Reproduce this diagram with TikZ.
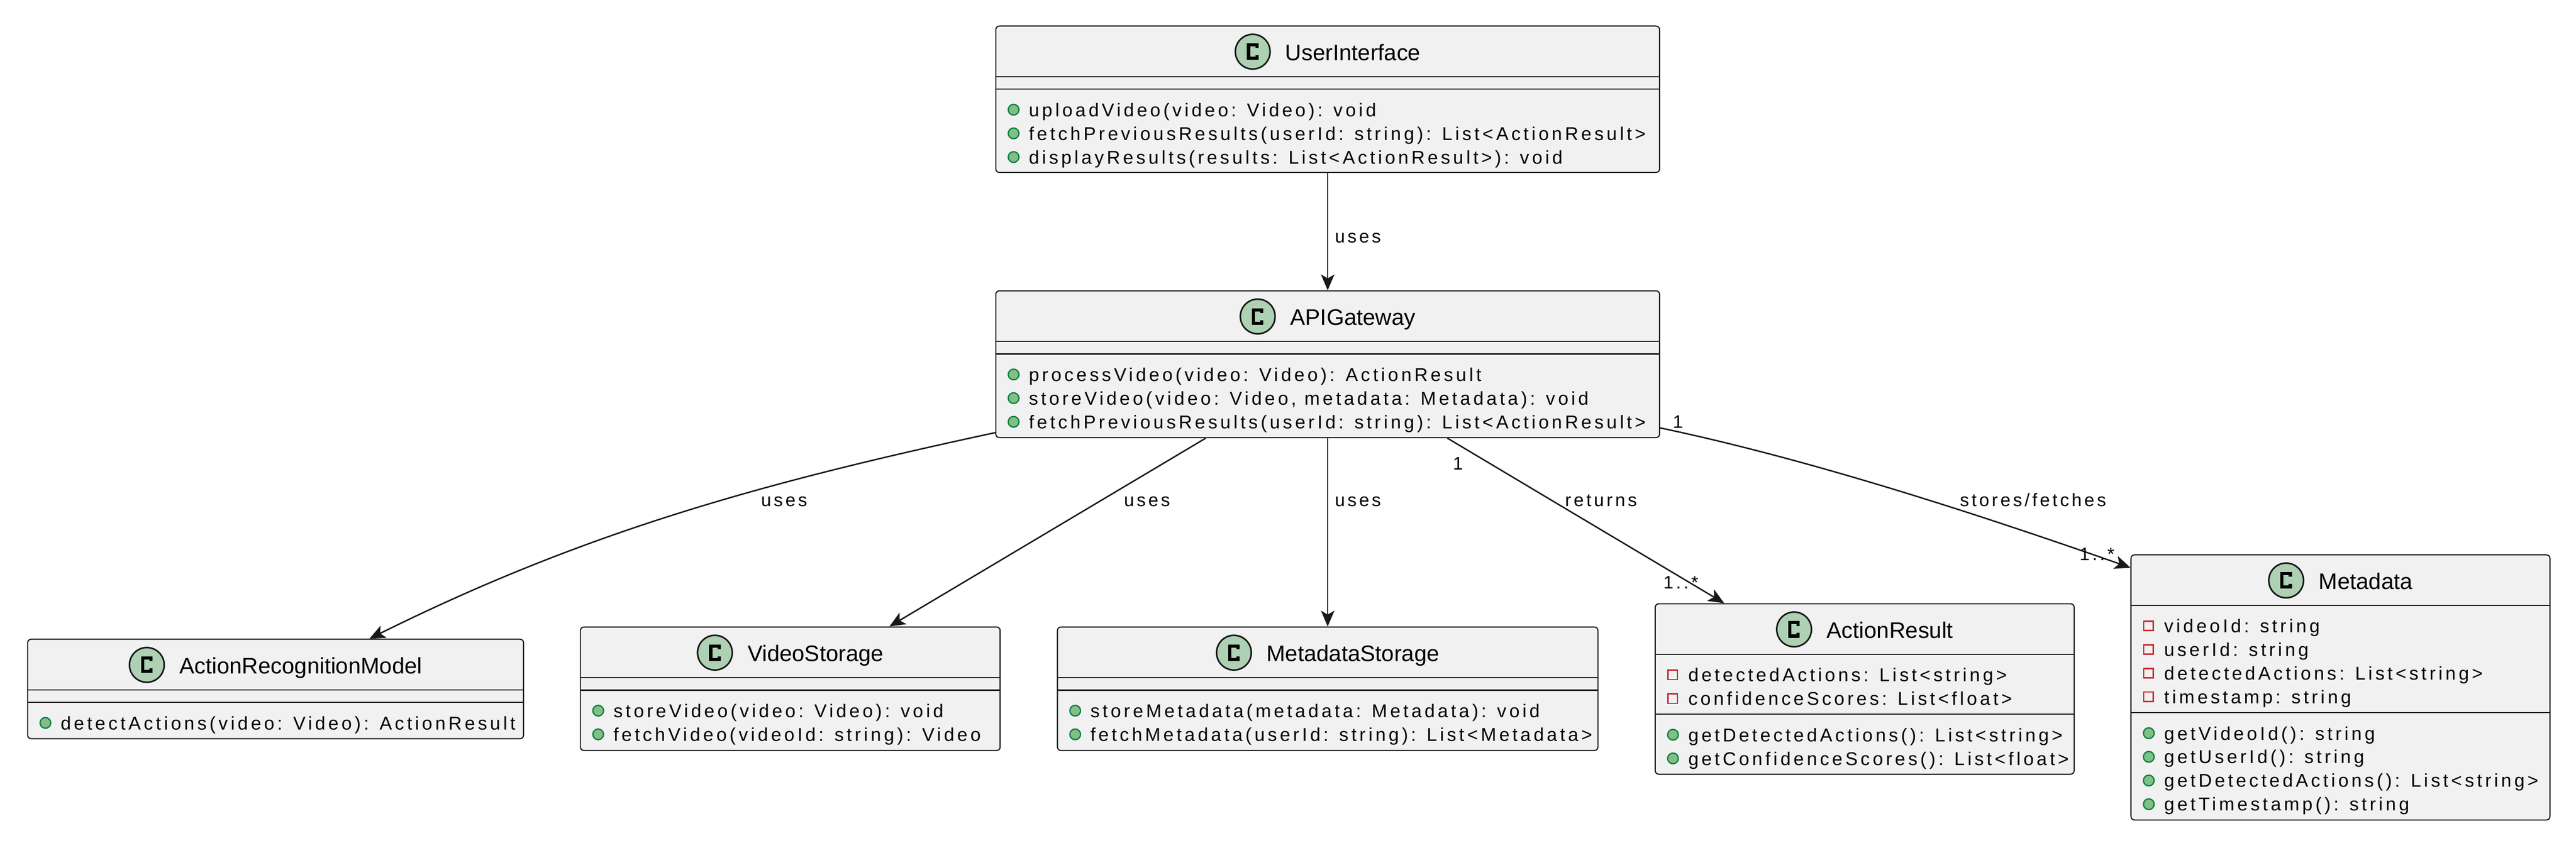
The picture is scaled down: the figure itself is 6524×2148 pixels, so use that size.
\documentclass[tikz,border=0pt]{standalone}
\usepackage{fontspec}
\setmainfont{Liberation Sans}
\newfontfamily\memberfont[LetterSpace=15.5]{Liberation Sans}
\newfontfamily\labelfont[LetterSpace=14]{Liberation Sans}
\newfontfamily\titlefont{Liberation Sans}
\usetikzlibrary{arrows.meta,calc,fit}
\definecolor{boxfill}{HTML}{F1F1F1}
\definecolor{boxline}{HTML}{181818}
\definecolor{circfill}{HTML}{ADD1B2}
\definecolor{pubfill}{HTML}{84BE84}
\definecolor{publine}{HTML}{038048}
\definecolor{privline}{HTML}{C82930}
\newcounter{memcnt}
\tikzset{
 classbox/.style={draw=boxline, fill=boxfill, line width=0.7pt, rounded corners=2.25pt, inner sep=0pt},
 sepline/.style={draw=boxline, line width=0.7pt},
 titletext/.style={inner sep=0pt, font=\titlefont\fontsize{14.25pt}{16pt}\selectfont},
 member/.style={inner sep=0pt, anchor=base west, font=\memberfont\fontsize{11.75pt}{13pt}\selectfont},
 edgelabel/.style={inner sep=0pt, anchor=base west, font=\labelfont\fontsize{11.5pt}{13pt}\selectfont},
 conn/.style={draw=boxline, line width=0.9pt, -{Stealth[length=10pt,width=8.5pt,inset=2.5pt]}},
 pubicon/.style={draw=publine, fill=pubfill, line width=0.8pt},
 privicon/.style={draw=privline, line width=0.8pt},
 classcircle/.style={draw=boxline, fill=circfill, line width=1pt},
 cglyph/.style={draw=black, line width=2pt},
}
\newcommand\classhead[4]{%
  \node[titletext, anchor=base] (#1title) at (#2+64,#3+87) {#4};
  \path (#1title.base west) ++(-82,-22) coordinate (#1c);
  \draw[classcircle] (#1c) circle[radius=11pt];
  \draw[cglyph] ($(#1c)+(10.5,-9)$) -- ++(0,-8) -- ++(-21,0) -- ++(0,34) -- ++(21,0) -- ++(0,-8);
}
\newcommand\sepl[3]{\draw[sepline] (#1,#3) -- (#2,#3);}
\newcommand\pubm[3]{%
  \stepcounter{memcnt}%
  \draw[pubicon] (#1+45,#2-17) circle[radius=3.4pt];
  \node[member] (mem\arabic{memcnt}) at (#1+83,#2) {#3};}
\newcommand\privm[3]{%
  \stepcounter{memcnt}%
  \draw[privicon] (#1+32.5,#2-29) rectangle (#1+56.5,#2-5);
  \node[member] (mem\arabic{memcnt}) at (#1+83,#2) {#3};}
\begin{document}
\begin{tikzpicture}[x=0.25pt,y=-0.25pt]
\useasboundingbox (0,0) rectangle (6524,2148);
\fill[white] (0,0) rectangle (6524,2148);

% UserInterface
\node[classbox, fit={(2522,66) (4203,437)}] (ui) {};
\classhead{ui}{3362.5}{66}{UserInterface}
\sepl{2522}{4203}{194}\sepl{2522}{4203}{226}
\pubm{2522}{295}{uploadVideo(video: Video): void}
\pubm{2522}{355}{fetchPreviousResults(userId: string): List<ActionResult>}
\pubm{2522}{415}{displayResults(results: List<ActionResult>): void}

% APIGateway
\node[classbox, fit={(2522,737) (4203,1109)}] (api) {};
\classhead{api}{3362.5}{737}{APIGateway}
\sepl{2522}{4203}{865}\sepl{2522}{4203}{897}
\pubm{2522}{966}{processVideo(video: Video): ActionResult}
\pubm{2522}{1026}{storeVideo(video: Video, metadata: Metadata): void}
\pubm{2522}{1086}{fetchPreviousResults(userId: string): List<ActionResult>}

% ActionRecognitionModel
\node[classbox, fit={(70,1620) (1326,1872)}] (arm) {};
\classhead{arm}{698}{1620}{ActionRecognitionModel}
\sepl{70}{1326}{1748}\sepl{70}{1326}{1780}
\pubm{70}{1849}{detectActions(video: Video): ActionResult}

% VideoStorage
\node[classbox, fit={(1470,1589) (2533,1902)}] (vs) {};
\classhead{vs}{2001.5}{1589}{VideoStorage}
\sepl{1470}{2533}{1717}\sepl{1470}{2533}{1749}
\pubm{1470}{1818}{storeVideo(video: Video): void}
\pubm{1470}{1878}{fetchVideo(videoId: string): Video}

% MetadataStorage
\node[classbox, fit={(2678,1589) (4047,1902)}] (ms) {};
\classhead{ms}{3362.5}{1589}{MetadataStorage}
\sepl{2678}{4047}{1717}\sepl{2678}{4047}{1749}
\pubm{2678}{1818}{storeMetadata(metadata: Metadata): void}
\pubm{2678}{1878}{fetchMetadata(userId: string): List<Metadata>}

% ActionResult
\node[classbox, fit={(4192,1530) (5253,1962)}] (ar) {};
\classhead{ar}{4722.5}{1530}{ActionResult}
\sepl{4192}{5253}{1658}\sepl{4192}{5253}{1810}
\privm{4192}{1727}{detectedActions: List<string>}
\privm{4192}{1787}{confidenceScores: List<float>}
\pubm{4192}{1879}{getDetectedActions(): List<string>}
\pubm{4192}{1939}{getConfidenceScores(): List<float>}

% Metadata
\node[classbox, fit={(5397,1406) (6458,2078)}] (md) {};
\classhead{md}{5927.5}{1406}{Metadata}
\sepl{5397}{6458}{1534}\sepl{5397}{6458}{1806}
\privm{5397}{1603}{videoId: string}
\privm{5397}{1663}{userId: string}
\privm{5397}{1723}{detectedActions: List<string>}
\privm{5397}{1783}{timestamp: string}
\pubm{5397}{1875}{getVideoId(): string}
\pubm{5397}{1935}{getUserId(): string}
\pubm{5397}{1995}{getDetectedActions(): List<string>}
\pubm{5397}{2055}{getTimestamp(): string}

% connectors
\draw[conn] (ui) -- (api);
\draw[conn] ($(api.south west)+(0,-14)$) .. controls (1922,1225) and (1477,1350) .. ($(arm.north west)+(867,0)$);
\draw[conn] ($(api.south west)+(533,0)$) -- ($(vs.north west)+(784,0)$);
\draw[conn] (api) -- (ms);
\draw[conn] ($(api.south west)+(1145,0)$) -- ($(ar.north west)+(176,0)$);
\draw[conn] ($(api.south east)+(0,-26)$) .. controls (4602,1168) and (5043,1315) .. ($(md.north west)+(0,34)$);

% labels
\node[edgelabel] (l1) at (3380,615) {uses};
\node[edgelabel] (l2) at (1927,1283) {uses};
\node[edgelabel] (l3) at (2846,1283) {uses};
\node[edgelabel] (l4) at (3380,1283) {uses};
\node[edgelabel] (l5) at (3963,1283) {returns};
\node[edgelabel] (l6) at (4963,1283) {stores/fetches};
\node[edgelabel] (m1) at (3679,1190) {1};
\node[edgelabel] (m2) at (4212,1492) {1..*};
\node[edgelabel] (m3) at (4236,1085) {1};
\node[edgelabel] (m4) at (5266,1420) {1..*};
\end{tikzpicture}
\end{document}
